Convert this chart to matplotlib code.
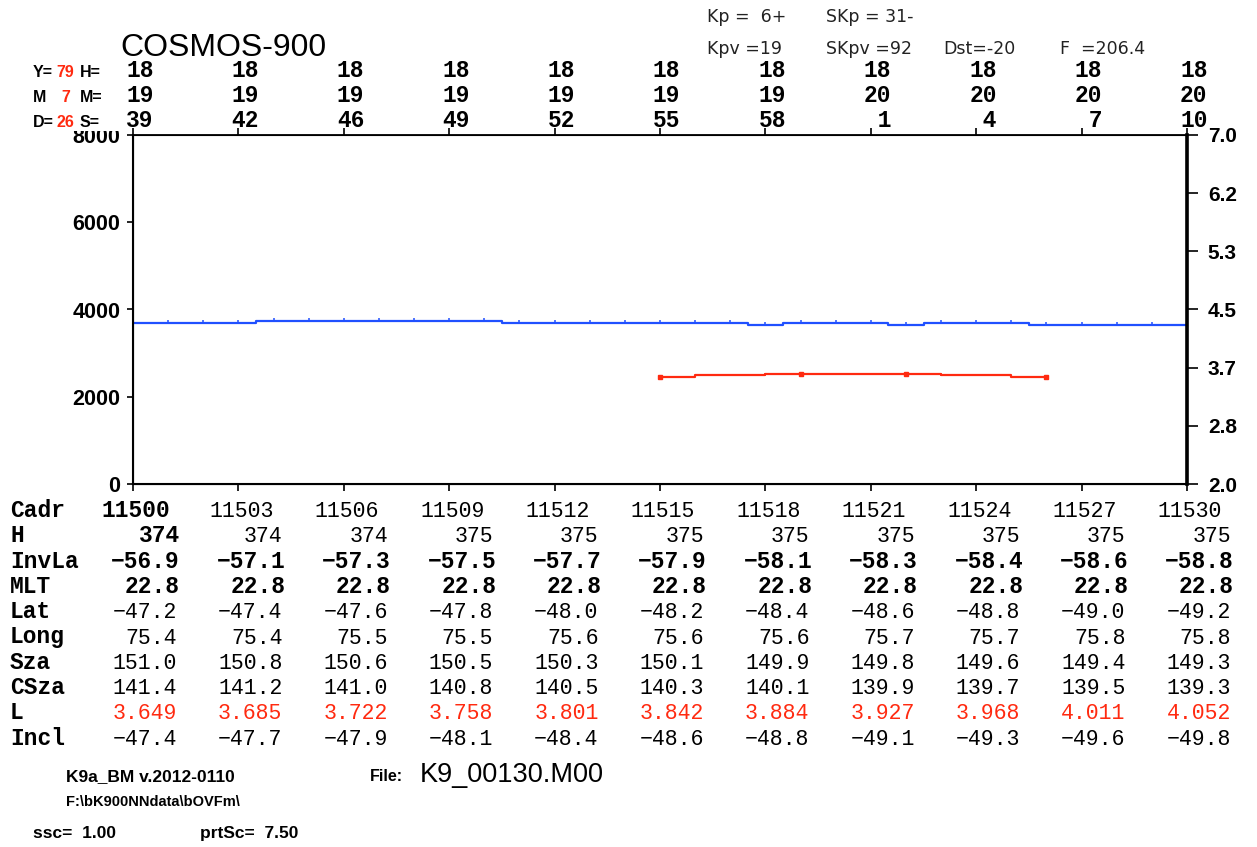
import numpy as np
import matplotlib
matplotlib.use("Agg")
import matplotlib.pyplot as plt
from matplotlib import transforms
from matplotlib.patches import Rectangle

# orbit frames shown along the time axis
cadr = list(range(11500, 11531))

# counting rates (left scale)
blue_vals = [3690, 3690, 3690, 3690, 3740, 3740, 3740, 3740, 3740, 3740, 3740,
             3690, 3690, 3690, 3690, 3690, 3690, 3690, 3650, 3690, 3690, 3690,
             3650, 3690, 3690, 3690, 3650, 3650, 3650, 3650, 3650]
red_cadr = list(range(11515, 11527))
red_vals = [2450, 2490, 2490, 2530, 2530, 2530, 2530, 2530, 2490, 2490, 2450, 2450]
red_marks = [0, 4, 7, 11]

# time header above the plot (hour, minute, second)
col_cadr = [11500, 11503, 11506, 11509, 11512, 11515, 11518, 11521, 11524, 11527, 11530]
hh = [18, 18, 18, 18, 18, 18, 18, 18, 18, 18, 18]
mm = [19, 19, 19, 19, 19, 19, 19, 20, 20, 20, 20]
ss = [39, 42, 46, 49, 52, 55, 58, 1, 4, 7, 10]

# orbit parameters under the plot
H_alt = [374, 374, 374, 375, 375, 375, 375, 375, 375, 375, 375]
invlat = [-56.9, -57.1, -57.3, -57.5, -57.7, -57.9, -58.1, -58.3, -58.4, -58.6, -58.8]
mlt = [22.8] * 11
lat = [-47.2, -47.4, -47.6, -47.8, -48.0, -48.2, -48.4, -48.6, -48.8, -49.0, -49.2]
lon = [75.4, 75.4, 75.5, 75.5, 75.6, 75.6, 75.6, 75.7, 75.7, 75.8, 75.8]
sza = [151.0, 150.8, 150.6, 150.5, 150.3, 150.1, 149.9, 149.8, 149.6, 149.4, 149.3]
csza = [141.4, 141.2, 141.0, 140.8, 140.5, 140.3, 140.1, 139.9, 139.7, 139.5, 139.3]
lshell = [3.649, 3.685, 3.722, 3.758, 3.801, 3.842, 3.884, 3.927, 3.968, 4.011, 4.052]
incl = [-47.4, -47.7, -47.9, -48.1, -48.4, -48.6, -48.8, -49.1, -49.3, -49.6, -49.8]

left_ticks = [0, 2000, 4000, 6000, 8000]
right_labels = ["2.0", "2.8", "3.7", "4.5", "5.3", "6.2", "7.0"]

BLUE = "#2050ff"
RED = "#ff2a10"
W, H = 1257, 847
MONO = ["Liberation Mono", "DejaVu Sans Mono"]
SANS = ["Liberation Sans", "DejaVu Sans"]


def fy(py):
    return 1 - py / H


def fx(px):
    return px / W


def minus(s):
    return s.replace("-", "\u2212")


fig = plt.figure(figsize=(W / 100, H / 100), dpi=100)
ax = fig.add_axes([fx(133), fy(484), fx(1054), 349 / H])

ax.plot(cadr, blue_vals, color=BLUE, lw=1.6, drawstyle="steps-mid")
ax.plot(cadr, blue_vals, color=BLUE, ls="none", marker=2, ms=2.5, mew=1.1)
ax.plot(red_cadr, red_vals, color=RED, lw=1.6, drawstyle="steps-post",
        marker="s", ms=3, markevery=red_marks)

ax.set_xlim(11500, 11530)
ax.set_ylim(0, 8000)
ax.set_xticks(col_cadr)
ax.tick_params(axis="x", top=True, bottom=True, direction="out", length=5,
               width=1.2, labelbottom=False, labeltop=False)
ax.set_yticks(left_ticks)
ax.set_yticklabels([str(v) for v in left_ticks], family=SANS, weight="bold",
                   fontsize=15.5)
ax.tick_params(axis="y", direction="out", length=4, width=1.2, pad=5)
for side, lw in [("left", 1.5), ("top", 1.3), ("bottom", 1.5), ("right", 1.5)]:
    ax.spines[side].set_linewidth(lw)

ax2 = ax.twinx()
ax2.set_ylim(2, 7)
ax2.set_yticks(np.linspace(2, 7, len(right_labels)))
ax2.set_yticklabels(right_labels, family=SANS, weight="bold", fontsize=15)
ax2.tick_params(axis="y", direction="out", length=8, width=1.2, pad=7)
ax2.spines["right"].set_linewidth(2.6)

# hide the upper half of the 8000 label behind the header row
fig.patches.append(Rectangle((fx(60), fy(131)), fx(68), 30 / H,
                             transform=fig.transFigure, facecolor="white",
                             edgecolor="none", zorder=1))

base = transforms.blended_transform_factory(ax.transData, fig.transFigure)


def at(dx):
    return transforms.offset_copy(base, fig=fig, x=dx, y=0, units="dots")


# title and space weather indices
fig.text(fx(120), fy(56), "COSMOS-900", family=SANS, fontsize=23, va="baseline")
idx = [(707, 22, "Kp =  6+"), (826, 22, "SKp = 31-"),
       (707, 54, "Kpv =19"), (826, 54, "SKpv =92"),
       (943, 54, "Dst=-20"), (1060, 54, "F  =206.4")]
for px, py, s in idx:
    fig.text(fx(px), fy(py), s, family=["DejaVu Sans"], fontsize=12.5,
             va="baseline", color="#222222")

# date / time header
hdr = [(77, "Y=", "79", "H="), (102, "M", "7", "M="), (127, "D=", "26", "S=")]
for py, a, b, c in hdr:
    fig.text(fx(33), fy(py), a, family=SANS, weight="bold", fontsize=11.5,
             va="baseline")
    fig.text(fx(65.5), fy(py), b, family=SANS, weight="bold", fontsize=11.5,
             va="baseline", ha="center", color=RED)
    fig.text(fx(80), fy(py), c, family=SANS, weight="bold", fontsize=11.5,
             va="baseline")

for row, py in [(hh, 77), (mm, 102), (ss, 127)]:
    for c, v in zip(col_cadr, row):
        fig.text(c, fy(py), "%2d" % v, transform=at(-7), family=MONO,
                 weight="bold", fontsize=16.5, va="baseline")

# parameter table
rows = [
    ("Cadr", [str(v) for v in col_cadr], "cadr"),
    ("H", [str(v) for v in H_alt], "h"),
    ("InvLa", ["%.1f" % v for v in invlat], "bold"),
    ("MLT", ["%.1f" % v for v in mlt], "bold"),
    ("Lat", ["%.1f" % v for v in lat], "reg"),
    ("Long", ["%.1f" % v for v in lon], "reg"),
    ("Sza", ["%.1f" % v for v in sza], "reg"),
    ("CSza", ["%.1f" % v for v in csza], "reg"),
    ("L", ["%.3f" % v for v in lshell], "red"),
    ("Incl", ["%.1f" % v for v in incl], "reg"),
]
for i, (name, vals, kind) in enumerate(rows):
    py = 517 + 25.3 * i
    fig.text(fx(10), fy(py), name, family=MONO, weight="bold", fontsize=16.5,
             va="baseline")
    for j, (c, s) in enumerate(zip(col_cadr, vals)):
        s = minus(s)
        bold = kind == "bold" or (kind in ("cadr", "h") and j == 0)
        color = RED if kind == "red" else "black"
        if kind == "cadr":
            fig.text(c, fy(py), s, transform=at(3), ha="center", va="baseline",
                     family=MONO, weight="bold" if bold else "normal",
                     fontsize=16.5 if bold else 15.5, color=color)
        else:
            fig.text(c, fy(py), s, transform=at(47 if bold else 44), ha="right",
                     va="baseline", family=MONO,
                     weight="bold" if bold else "normal",
                     fontsize=16.5 if bold else 15.5, color=color)

# footer
fig.text(fx(66), fy(781), "K9a_BM v.2012-0110", family=SANS, weight="bold",
         fontsize=12.5, va="baseline")
fig.text(fx(66), fy(806), "F:\\bK900NNdata\\bOVFm\\", family=SANS,
         weight="bold", fontsize=10.5, va="baseline")
fig.text(fx(33), fy(838), "ssc=  1.00", family=SANS, weight="bold",
         fontsize=12.5, va="baseline")
fig.text(fx(200), fy(838), "prtSc=  7.50", family=SANS, weight="bold",
         fontsize=12.5, va="baseline")
fig.text(fx(370), fy(781), "File:", family=SANS, weight="bold", fontsize=11.5,
         va="baseline")
fig.text(fx(420), fy(782), "K9_00130.M00", family=SANS, fontsize=19.5,
         va="baseline")

fig.savefig("out.png", dpi=100, facecolor="white")
